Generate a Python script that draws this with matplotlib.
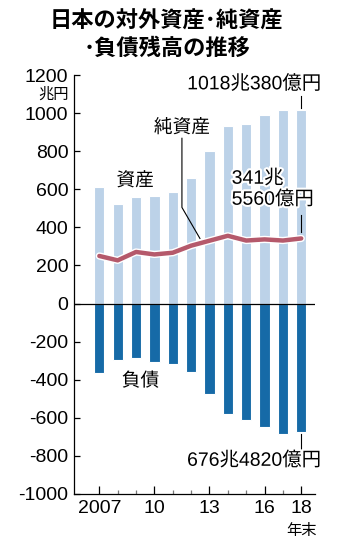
import matplotlib
matplotlib.use("Agg")
import matplotlib.pyplot as plt
import matplotlib.patheffects as pe
from matplotlib.ticker import FixedLocator

# データ (兆円, 年末)
years = [2007, 2008, 2009, 2010, 2011, 2012, 2013, 2014, 2015, 2016, 2017, 2018]
assets = [612, 521, 559, 563, 586, 661, 801, 932, 941, 988, 1014, 1018]
liabilities = [-362, -294, -288, -306, -318, -360, -474, -580, -612, -650, -685, -676]
net_assets = [250, 227, 271, 258, 267, 304, 330, 356, 331, 337, 331, 342]

yticks = [-1000, -800, -600, -400, -200, 0, 200, 400, 600, 800, 1000, 1200]
xticks_major = [2007, 2010, 2013, 2016, 2018]
xticklabels = ["2007", "10", "13", "16", "18"]

plt.rcParams['font.family'] = ['Liberation Sans', 'Noto Sans CJK JP']
jp = ['Noto Sans CJK JP', 'Liberation Sans']

light = '#bcd2e8'
dark = '#166aa7'
red = '#b5596b'

fig = plt.figure(figsize=(3.4, 5.4), dpi=100)
ax = fig.add_axes([0.2176, 0.0852, 0.926 - 0.2176, 0.861 - 0.0852])

ax.bar(years, assets, width=0.56, color=light, edgecolor='white', linewidth=0.8, zorder=2)
ax.bar(years, liabilities, width=0.56, color=dark, edgecolor='white', linewidth=0.8, zorder=2)
ax.axhline(0, color='black', linewidth=0.9, zorder=3)
ax.plot(years, net_assets, color=red, linewidth=3.2, solid_capstyle='round', zorder=5,
        path_effects=[pe.Stroke(linewidth=5.2, foreground='white'), pe.Normal()])

ax.set_xlim(2005.62, 2018.74)
ax.set_ylim(-1000, 1200)
ax.spines['top'].set_visible(False)
ax.spines['right'].set_visible(False)
ax.spines['left'].set_linewidth(0.9)
ax.spines['bottom'].set_linewidth(0.9)

ax.set_yticks(yticks)
ax.set_yticklabels([str(v) for v in yticks], fontsize=14)
ax.tick_params(axis='y', direction='in', length=4, width=0.9, pad=4)

ax.set_xticks(xticks_major)
ax.set_xticklabels(xticklabels, fontsize=14)
ax.xaxis.set_minor_locator(FixedLocator([y for y in years if y not in xticks_major]))
ax.tick_params(axis='x', which='major', direction='in', length=6, width=0.9, pad=4)
ax.tick_params(axis='x', which='minor', direction='in', length=3, width=0.9, color='#777777')

# 単位・年末
ax.text(-0.02, 0.955, '兆円', transform=ax.transAxes, ha='right', va='center',
        fontsize=11, family=jp)
ax.text(2018, -1190, '年末', ha='center', va='center', fontsize=11, family=jp, clip_on=False)

# タイトル
fig.text(0.49, 0.961, '日本の対外資産･純資産', ha='center', va='center',
         fontsize=16, fontweight='bold', family=jp)
fig.text(0.49, 0.91, '･負債残高の推移', ha='center', va='center',
         fontsize=16, fontweight='bold', family=jp)

white = [pe.withStroke(linewidth=3, foreground='white')]

# 注記
ax.text(2019.12, 1153, '1018兆380億円', ha='right', va='center', fontsize=14,
        clip_on=False, path_effects=white)
ax.plot([2018, 2018], [1089, 1026], color='black', linewidth=0.8, zorder=6)

ax.text(2011.5, 926, '純資産', ha='center', va='center', fontsize=13.5, family=jp,
        path_effects=white, zorder=7)
ax.plot([2011.5, 2011.5, 2012.48], [868, 505, 342], color='black', linewidth=0.8, zorder=6)

ax.text(2008.95, 647, '資産', ha='center', va='center', fontsize=13.5, family=jp,
        path_effects=white, zorder=7)

ax.text(2014.21, 655, '341兆', ha='left', va='center', fontsize=14,
        path_effects=white, zorder=7)
ax.text(2014.21, 547, '5560億円', ha='left', va='center', fontsize=14,
        path_effects=white, zorder=7)
ax.plot([2018, 2018], [463, 374], color='black', linewidth=0.8, zorder=6)

ax.text(2009.24, -405, '負債', ha='center', va='center', fontsize=13.5, family=jp,
        path_effects=white, zorder=7)

ax.text(2019.12, -824, '676兆4820億円', ha='right', va='center', fontsize=14,
        clip_on=False, path_effects=white, zorder=7)
ax.plot([2018, 2018], [-684, -784], color='black', linewidth=0.8, zorder=6)

fig.savefig('out.png', dpi=100)
